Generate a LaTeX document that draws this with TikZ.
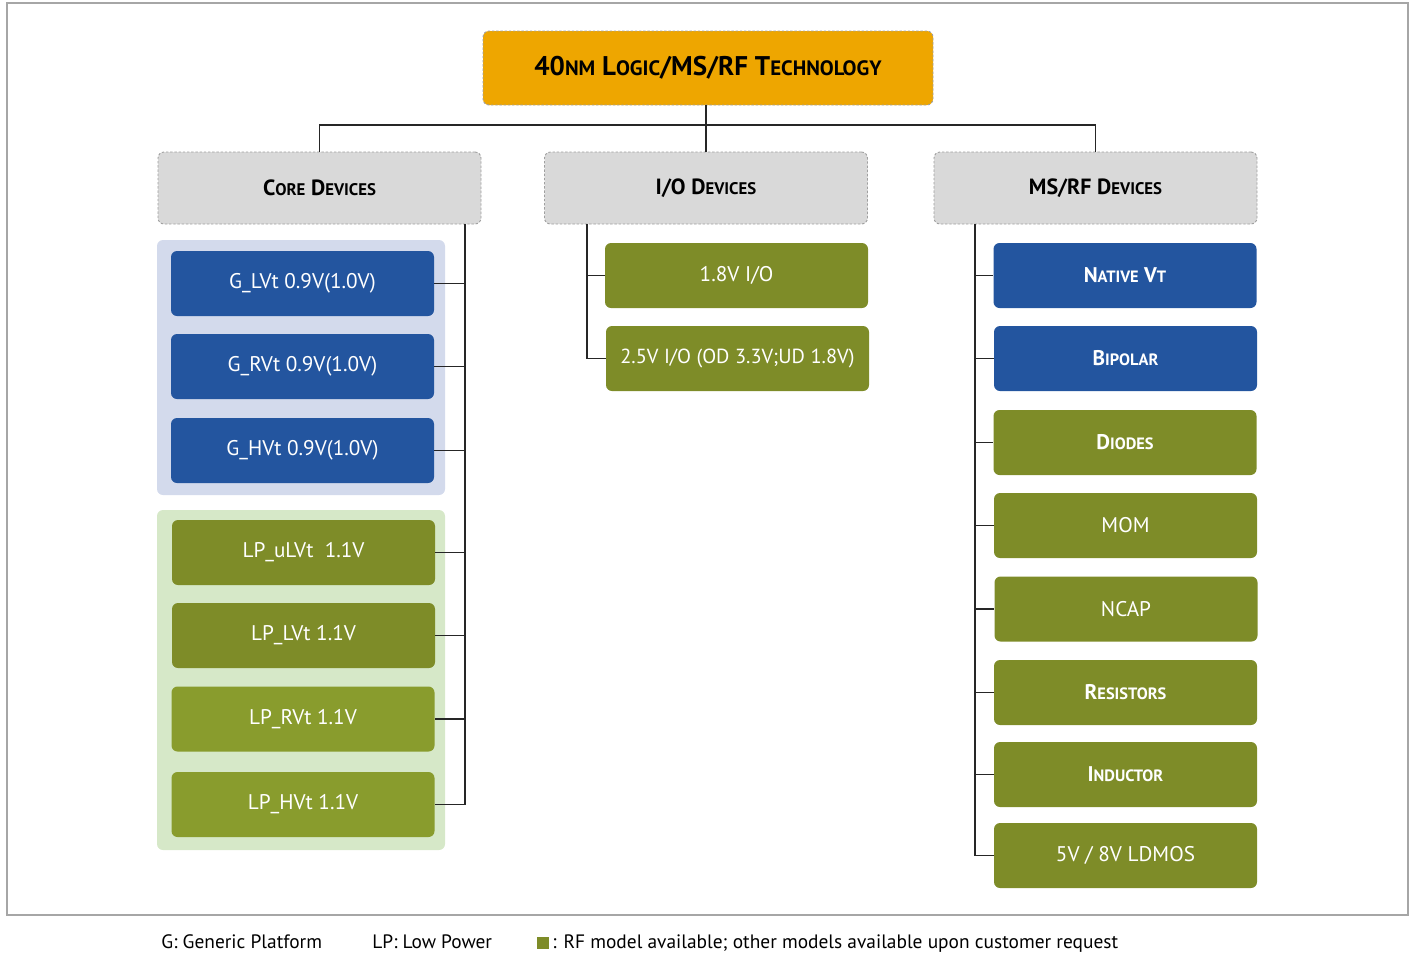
\documentclass[tikz,border=0pt]{standalone}
\usepackage{fontspec}
\setmainfont{PT Sans}
\definecolor{orng}{HTML}{EEA600}
\definecolor{hdr}{HTML}{D9D9D9}
\definecolor{blu}{HTML}{23559F}
\definecolor{grn}{HTML}{7E8C28}
\definecolor{lgrn}{HTML}{899C2D}
\definecolor{bluebg}{HTML}{D3DAEC}
\definecolor{grnbg}{HTML}{D6E8C8}
\newcommand\hsc[2]{#1{\fontsize{8.4}{10}\selectfont #2}}
\newcommand\tsc[2]{#1{\fontsize{10.4}{12}\selectfont #2}}
\newcommand\bsc[2]{#1{\fontsize{8.2}{10}\selectfont #2}}
\begin{document}
\begin{tikzpicture}[x=0.5pt,y=-0.5pt,
  fine/.style={draw=gray!75,line width=0.45pt,dash pattern=on 1.2pt off 0.9pt},
  title/.style={fine,fill=orng,rounded corners=3pt,minimum width=225pt,minimum height=37pt,inner sep=0pt,font=\fontsize{13.5}{15}\selectfont\bfseries},
  hbox/.style={fine,fill=hdr,rounded corners=3pt,minimum width=161.5pt,minimum height=36pt,inner sep=0pt,font=\fontsize{11}{13}\selectfont\bfseries},
  dev/.style={rounded corners=3pt,minimum width=131.5pt,minimum height=32.5pt,inner sep=0pt,text=white,font=\fontsize{10.6}{12}\selectfont},
  scdev/.style={font=\fontsize{10.6}{12}\selectfont\bfseries},
  bdev/.style={dev,fill=blu},
  gdev/.style={dev,fill=grn},
  ldev/.style={dev,fill=lgrn},
  conn/.style={draw=black!85,line width=0.6pt},
  legend/.style={anchor=base west,inner sep=0pt,font=\fontsize{9.7}{12}\selectfont}
]
\useasboundingbox (0,0) rectangle (1410,955);
\draw[gray!70,line width=0.6pt] (7,3) rectangle (1408,915);
% backgrounds
\fill[bluebg,rounded corners=3pt] (157,240) rectangle (445,495);
\fill[grnbg,rounded corners=3pt] (157,510) rectangle (445,850);
% top
\node[title] (top) at (708,68) {40\tsc{}{NM} L\tsc{}{OGIC}/MS/RF T\tsc{}{ECHNOLOGY}};
\node[hbox] (core) at (319.5,188) {C\hsc{}{ORE} D\hsc{}{EVICES}};
\node[hbox] (io) at (706,188) {I/O D\hsc{}{EVICES}};
\node[hbox] (ms) at (1095.5,188) {MS/RF D\hsc{}{EVICES}};
% core devices
\node[bdev] (g1) at (302.5,283.5) {G\_LVt 0.9V(1.0V)};
\node[bdev] (g2) at (302.5,366.5) {G\_RVt 0.9V(1.0V)};
\node[bdev] (g3) at (302.5,450.5) {G\_HVt 0.9V(1.0V)};
\node[gdev] (lp1) at (303.5,552.5) {LP\_uLVt\ \ 1.1V};
\node[gdev] (lp2) at (303.5,635.5) {LP\_LVt 1.1V};
\node[ldev] (lp3) at (303,719) {LP\_RVt 1.1V};
\node[ldev] (lp4) at (303,804.5) {LP\_HVt 1.1V};
% io devices
\node[gdev] (io1) at (736.5,275.5) {1.8V I/O};
\node[gdev,font=\fontsize{10.2}{12}\selectfont] (io2) at (737.5,358.5) {2.5V I/O (OD 3.3V;UD 1.8V)};
% ms/rf devices
\node[bdev,scdev] (m1) at (1125,275.5) {N\bsc{}{ATIVE} V\bsc{}{T}};
\node[bdev,scdev] (m2) at (1125.5,358.5) {B\bsc{}{IPOLAR}};
\node[gdev,scdev] (m3) at (1125,442.5) {D\bsc{}{IODES}};
\node[gdev] (m4) at (1125.5,525.5) {MOM};
\node[gdev] (m5) at (1126,609) {NCAP};
\node[gdev,scdev] (m6) at (1125.5,692.5) {R\bsc{}{ESISTORS}};
\node[gdev,scdev] (m7) at (1125.5,774.5) {I\bsc{}{NDUCTOR}};
\node[gdev] (m8) at (1125.5,855.5) {5V / 8V LDMOS};
% tree
\coordinate (bus) at (706,125);
\draw[conn] (top.south -| bus) -- (bus);
\draw[conn] (core.north) |- (bus) -| (ms.north);
\draw[conn] (bus) -- (io.north);
% core spine
\coordinate (cs) at (465,224);
\draw[conn] (cs) |- (lp4.east);
\foreach \n in {g1,g2,g3,lp1,lp2,lp3} \draw[conn] (cs |- \n.east) -- (\n.east);
% io spine
\coordinate (is) at (587,224);
\draw[conn] (is) |- (io2.west);
\draw[conn] (is |- io1.west) -- (io1.west);
% ms spine
\coordinate (ms0) at (975,224);
\draw[conn] (ms0) |- (m8.west);
\foreach \n in {m1,m2,m3,m4,m5,m6,m7} \draw[conn] (ms0 |- \n.west) -- (\n.west);
% legend
\node[legend] (l1) at (161,948) {G: Generic Platform};
\node[legend] (l2) at (372,948) {LP: Low Power};
\node[fill=grn,minimum size=6pt,inner sep=0pt] (sq) at (543,943) {};
\node[legend] (l3) at (552,948) {: RF model available; other models available upon customer request};
\end{tikzpicture}
\end{document}
